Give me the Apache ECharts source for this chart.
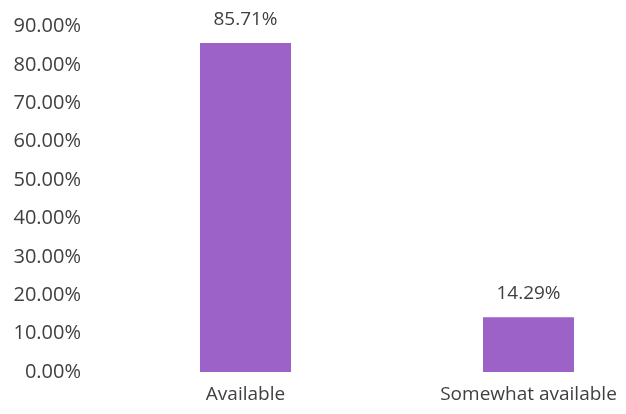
<!DOCTYPE html>
<html><head><meta charset="utf-8">
<script src="https://cdn.jsdelivr.net/npm/echarts@6/dist/echarts.min.js"></script>
<style>html,body{margin:0;padding:0;background:#fff}#c{width:626px;height:414px}</style>
</head><body><div id="c"></div>
<script>
const categories = ["Available", "Somewhat available"];
const values = [85.71, 14.29];
const yMin = 0, yMax = 90, yStep = 10;

const chart = echarts.init(document.getElementById('c'), null, {renderer: 'canvas'});
const font = '"Open Sans", sans-serif';
chart.setOption({
  animation: false,
  backgroundColor: '#ffffff',
  grid: {left: 104, width: 566, top: 26.5, height: 345.5, containLabel: false, outerBoundsMode: 'none'},
  xAxis: {
    type: 'category', data: categories,
    axisLine: {show: false}, axisTick: {show: false},
    axisLabel: {color: '#404040', fontFamily: font, fontSize: 19, margin: 13}
  },
  yAxis: {
    type: 'value', min: yMin, max: yMax, interval: yStep,
    axisLine: {show: false}, axisTick: {show: false}, splitLine: {show: false},
    axisLabel: {color: '#404040', fontFamily: font, fontSize: 20, margin: 23,
      formatter: v => v.toFixed(2) + '%'}
  },
  series: [{
    type: 'bar', data: values, barWidth: 91,
    itemStyle: {color: '#9c62c8'},
    label: {show: true, position: 'top', distance: 14, color: '#404040',
      fontFamily: font, fontSize: 19, formatter: p => p.value.toFixed(2) + '%'}
  }]
});
</script></body></html>
